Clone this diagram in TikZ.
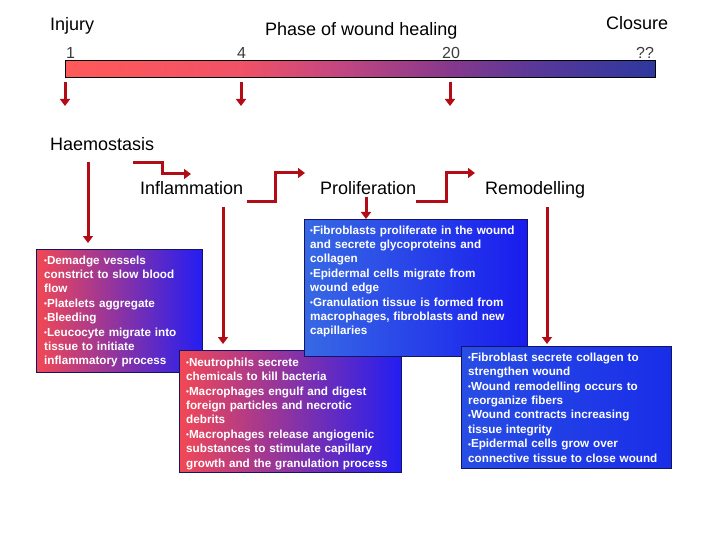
\documentclass[tikz,border=0pt]{standalone}
\usepackage{fontspec}
\setmainfont{Liberation Sans}
\usetikzlibrary{arrows.meta}
\definecolor{arrowred}{RGB}{178,12,22}
\definecolor{boxedge}{RGB}{20,20,100}
\definecolor{numgray}{RGB}{60,60,60}
\pgfdeclarehorizontalshading{barshade}{100bp}{rgb(0bp)=(1,.35,.35); rgb(25bp)=(1,.35,.35); rgb(40bp)=(.94,.32,.40); rgb(47.5bp)=(.78,.28,.50); rgb(57.5bp)=(.53,.22,.55); rgb(65bp)=(.34,.22,.60); rgb(75bp)=(.18,.22,.62); rgb(100bp)=(.18,.22,.62)}
\newcommand\boxstrut{\rule{0pt}{9pt}}
\newcommand\bul{\raisebox{0.5pt}{\fontsize{8}{8}\selectfont•}}
\begin{document}
\begin{tikzpicture}[x=1pt,y=-1pt,
  conn/.style={draw=arrowred,line width=3pt,-{Triangle[width=10pt,length=7pt]}},
  phase/.style={font=\fontsize{18}{21}\selectfont,anchor=base west,inner sep=0pt},
  num/.style={font=\fontsize{16}{19}\selectfont,anchor=base west,inner sep=0pt,text=numgray},
  infobox/.style={draw=boxedge,line width=0.9pt,anchor=north west,inner sep=0pt},
  redbox/.style={infobox,left color={rgb,255:red,242;green,72;blue,85},middle color={rgb,255:red,168;green,48;blue,200},right color={rgb,255:red,35;green,30;blue,242}},
  bluebox/.style={infobox,left color={rgb,255:red,55;green,105;blue,228},right color={rgb,255:red,25;green,28;blue,238}},
  remobox/.style={infobox,left color={rgb,255:red,40;green,78;blue,228},right color={rgb,255:red,25;green,45;blue,232}},
  infotext/.style={anchor=north west,inner sep=0pt,align=left,text=white,font=\bfseries\fontsize{11.7}{14.4}\selectfont}
]
\useasboundingbox (0,0) rectangle (720,540);
\fill[white] (0,0) rectangle (720,540);

% title texts
\node[phase] (injury) at (50,31) {Injury};
\node[phase] (title) at (265,36) {Phase of wound healing};
\node[phase] (closure) at (606,30) {Closure};

% numbers
\node[num] (n1) at (66,59) {1};
\node[num] (n4) at (237,59) {4};
\node[num] (n20) at (442,59) {20};
\node[num] (nq) at (636,59) {??};

% time bar
\node[draw=black,line width=0.8pt,shading=barshade,anchor=north west,inner sep=0pt,minimum width=590pt,minimum height=17pt] (bar) at (65,60) {};

% phase labels
\node[phase] (haem) at (50,151) {Haemostasis};
\node[phase] (infl) at (140,195) {Inflammation};
\node[phase] (prol) at (320,195) {Proliferation};
\node[phase] (remo) at (485,195) {Remodelling};

% boxes
\node[redbox,minimum width=166pt,minimum height=123pt] (haembox) at (36,249) {};
\node[infotext,text width=160pt] (haemtext) at (44,255) {\boxstrut\bul Demadge vessels\\constrict to slow blood\\flow\\\bul Platelets aggregate\\\bul Bleeding\\\bul Leucocyte migrate into\\tissue to initiate\\inflammatory process};

\node[redbox,minimum width=222pt,minimum height=122pt] (inflbox) at (179,350) {};
\node[infotext,text width=215pt] (infltext) at (186,357) {\boxstrut\bul Neutrophils secrete\\chemicals to kill bacteria\\\bul Macrophages engulf and digest\\foreign particles and necrotic\\debrits\\\bul Macrophages release angiogenic\\substances to stimulate capillary\\growth and the granulation process};

\node[bluebox,minimum width=223pt,minimum height=137pt] (prolbox) at (304,219) {};
\node[infotext,text width=216pt] (proltext) at (310,225) {\boxstrut\bul Fibroblasts proliferate in the wound\\and secrete glycoproteins and\\collagen\\\bul Epidermal cells migrate from\\wound edge\\\bul Granulation tissue is formed from\\macrophages, fibroblasts and new\\capillaries};

\node[remobox,minimum width=210pt,minimum height=122pt] (remobox) at (461,346) {};
\node[infotext,text width=203pt] (remotext) at (468,352) {\boxstrut\bul Fibroblast secrete collagen to\\strengthen wound\\\bul Wound remodelling occurs to\\reorganize fibers\\\bul Wound contracts increasing\\tissue integrity\\\bul Epidermal cells grow over\\connective tissue to close wound};

% arrow end points
\coordinate (t1a) at (65,82);  \coordinate (t1b) at (65,106);
\coordinate (t4a) at (241,82); \coordinate (t4b) at (241,106);
\coordinate (t20a) at (450,82); \coordinate (t20b) at (450,106);
\coordinate (hdown) at (88,162); \coordinate (hdownend) at (88,243);
\coordinate (hstart) at (133,163); \coordinate (hstep) at (162,174); \coordinate (hend) at (191,174);
\coordinate (istart) at (247,202); \coordinate (istep) at (275,173); \coordinate (iend) at (305,173);
\coordinate (idown) at (223,207); \coordinate (idownend) at (223,344);
\coordinate (pdown) at (366,197); \coordinate (pdownend) at (366,219);
\coordinate (pstart) at (416,202); \coordinate (pstep) at (446,173); \coordinate (pend) at (475,173);
\coordinate (rdown) at (547,207); \coordinate (rdownend) at (547,344);

\draw[conn] (t1a) -- (t1b);
\draw[conn] (t4a) -- (t4b);
\draw[conn] (t20a) -- (t20b);
\draw[conn] (hdown) -- (hdownend);
\draw[conn] (hstart) -| (hstep) -- (hend);
\draw[conn] (istart) -| (istep) -- (iend);
\draw[conn] (idown) -- (idownend);
\draw[conn] (pdown) -- (pdownend);
\draw[conn] (pstart) -| (pstep) -- (pend);
\draw[conn] (rdown) -- (rdownend);
\end{tikzpicture}
\end{document}
